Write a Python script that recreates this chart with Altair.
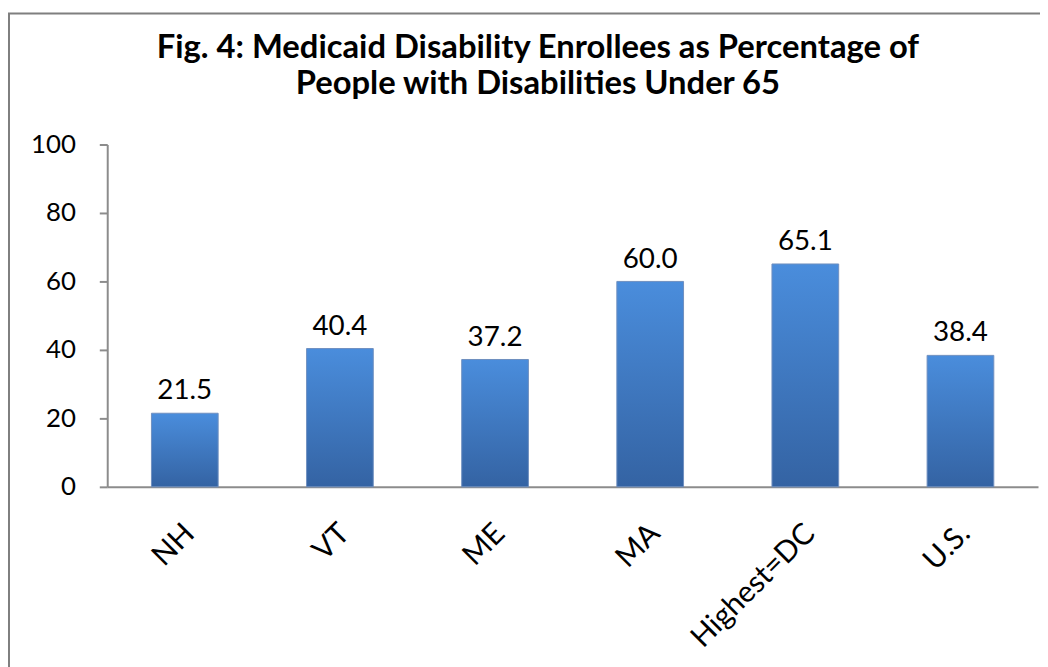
import altair as alt
import pandas as pd

categories = ["NH", "VT", "ME", "MA", "Highest=DC", "U.S."]
values = [21.5, 40.4, 37.2, 60.0, 65.1, 38.4]
value_labels = ["21.5", "40.4", "37.2", "60.0", "65.1", "38.4"]

df = pd.DataFrame({"cat": categories, "val": values, "lab": value_labels})

FONT = "Lato"

x_enc = alt.X("cat:N", sort=categories, title=None,
              scale=alt.Scale(paddingInner=0.57, paddingOuter=0.285),
              axis=alt.Axis(labelAngle=-45, labelAlign="right", labelBaseline="middle",
                            ticks=False, labelFontSize=30, labelFont=FONT, labelColor="#000",
                            labelPadding=42, labelOffset=5, domainColor="#8c8c8c", domainWidth=2,
                            labelOverlap=False, labelLimit=400))
y_enc = alt.Y("val:Q", title=None,
              scale=alt.Scale(domain=[0, 100], nice=False),
              axis=alt.Axis(values=[0, 20, 40, 60, 80, 100], grid=False, tickSize=8,
                            tickColor="#8c8c8c", domainColor="#8c8c8c", domainWidth=2, tickWidth=2,
                            labelFontSize=26, labelFont=FONT, labelColor="#000", labelPadding=24))

gradient = alt.Gradient(gradient="linear", x1=0, x2=0, y1=0, y2=1,
                        stops=[alt.GradientStop(color="#4a8ddc", offset=0),
                               alt.GradientStop(color="#3463a3", offset=1)])

base = alt.Chart(df)

bars = base.mark_bar(color=gradient, stroke="#6f8fbf", strokeWidth=1).encode(x=x_enc, y=y_enc)

texts = base.mark_text(baseline="alphabetic", dy=-14, fontSize=28, font=FONT, color="#000").encode(
    x=alt.X("cat:N", sort=categories), y="val:Q", text="lab:N")

frame = alt.Chart(pd.DataFrame({"a": [0]})).mark_rect(
    fill=None, stroke="#7f7f7f", strokeWidth=2, clip=False).encode(
    x=alt.value(-99), x2=alt.value(960), y=alt.value(-132), y2=alt.value(560))

chart = alt.layer(frame, bars, texts).properties(
    width=938, height=345,
    background="white",
    title=alt.TitleParams(
        ["Fig. 4: Medicaid Disability Enrollees as Percentage of",
         "People with Disabilities Under 65"],
        font=FONT, fontSize=33, fontWeight="bold", color="#000", anchor="middle",
        frame="group", baseline="alphabetic",
        dx=-35, offset=-115, lineHeight=36),
    autosize=alt.AutoSizeParams(type="none"),
    padding={"left": 100, "top": 135, "right": 2, "bottom": 179},
).configure_view(strokeWidth=0, stroke=None)

chart.save("out.html", embed_options={"renderer": "svg", "actions": False})
